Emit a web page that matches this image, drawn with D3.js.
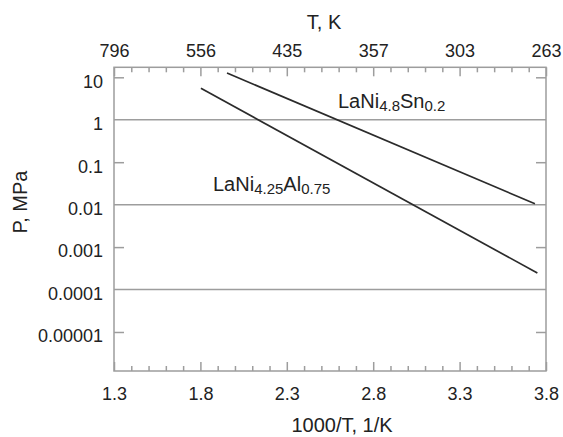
<!DOCTYPE html>
<html lang="en">
<head>
  <meta charset="UTF-8">
  <title>van 't Hoff plot</title>
  <style>
    body { margin: 0; background: #fff; }
    svg { display: block; font-family: "Liberation Sans", Arial, sans-serif; }
  </style>
</head>
<body>
  <svg class="chart"></svg>
  <script src="https://cdnjs.cloudflare.com/ajax/libs/d3/7.8.5/d3.min.js"></script>
  <script>
    var w = 563, h = 437;

    // data
    var invT_Sn = [1.954, 3.736];
    var P_Sn = [12.6, 0.0105];
    var invT_Al = [1.803, 3.75];
    var P_Al = [5.5, 0.000245];

    var xMajor = [1.3, 1.8, 2.3, 2.8, 3.3, 3.8];
    var xMajorLabels = ["1.3", "1.8", "2.3", "2.8", "3.3", "3.8"];
    var topLabels = ["796", "556", "435", "357", "303", "263"];
    var yTicks = [10, 1, 0.1, 0.01, 0.001, 0.0001, 0.00001];
    var yTickLabels = ["10", "1", "0.1", "0.01", "0.001", "0.0001", "0.00001"];
    var yGrid = [1, 0.01, 0.0001];
    var yShortTicks = [10, 0.1, 0.001, 0.00001];

    // plot box (window.top is reserved, so prefixed names)
    var pLeft = 114, pRight = 546, pTop = 67.3, pBottom = 371;

    var x = d3.scaleLinear().domain([1.3, 3.8]).range([pLeft, pRight]);
    var y = d3.scaleLog().domain([1.205e-6, 17.2]).range([pBottom, pTop]);

    var xMinor = d3.range(14, 38).map(d => d / 10).filter(v => !xMajor.some(m => Math.abs(m - v) < 1e-9));

    var svg = d3.select(".chart").attr("width", w).attr("height", h);

    var gray = "#9d9d9d", ink = "#222";

    // gridlines
    svg.append("g").selectAll("line")
      .data(yGrid)
      .enter().append("line")
      .attr("x1", pLeft).attr("x2", pRight)
      .attr("y1", d => y(d)).attr("y2", d => y(d))
      .attr("stroke", gray).attr("stroke-width", 1.5);

    function styleAxis(g) {
      g.select(".domain").remove();
      g.selectAll(".tick line").attr("stroke", gray).attr("stroke-width", 1.5);
      g.selectAll("text").attr("fill", ink).attr("font-size", 18)
        .attr("font-family", '"Liberation Sans", Arial, sans-serif');
    }

    // bottom axis (ticks inward)
    svg.append("g").attr("transform", "translate(0," + pBottom + ")")
      .call(d3.axisBottom(x).tickValues(xMinor).tickSize(-5).tickFormat(""))
      .call(styleAxis);
    svg.append("g").attr("transform", "translate(0," + pBottom + ")")
      .call(d3.axisBottom(x).tickValues(xMajor).tickSize(-9).tickPadding(16)
        .tickFormat((d, i) => xMajorLabels[i]))
      .call(styleAxis);

    // top axis
    svg.append("g").attr("transform", "translate(0," + pTop + ")")
      .call(d3.axisTop(x).tickValues(xMinor).tickSize(-5).tickFormat(""))
      .call(styleAxis);
    svg.append("g").attr("transform", "translate(0," + pTop + ")")
      .call(d3.axisTop(x).tickValues(xMajor).tickSize(-9).tickPadding(10)
        .tickFormat((d, i) => topLabels[i]))
      .call(styleAxis);

    // left axis
    var yl = svg.append("g").attr("transform", "translate(" + pLeft + ",0)")
      .call(d3.axisLeft(y).tickValues(yTicks).tickSize(0).tickPadding(11)
        .tickFormat((d, i) => yTickLabels[i]))
      .call(styleAxis);
    yl.selectAll("text").attr("dy", "0.55em");
    svg.append("g").attr("transform", "translate(" + pLeft + ",0)")
      .call(d3.axisLeft(y).tickValues(yShortTicks).tickSize(-10).tickFormat(""))
      .call(styleAxis);
    svg.append("g").attr("transform", "translate(" + pRight + ",0)")
      .call(d3.axisRight(y).tickValues(yShortTicks).tickSize(-10).tickFormat(""))
      .call(styleAxis);

    // frame
    svg.append("rect")
      .attr("x", pLeft).attr("y", pTop)
      .attr("width", pRight - pLeft).attr("height", pBottom - pTop)
      .attr("fill", "none").attr("stroke", gray).attr("stroke-width", 1.5);

    // series lines
    var lineFun = d3.line().x(d => x(d[0])).y(d => y(d[1]));
    var series = [
      d3.zip(invT_Sn, P_Sn),
      d3.zip(invT_Al, P_Al)
    ];
    svg.append("g").selectAll("path")
      .data(series)
      .enter().append("path")
      .attr("d", lineFun)
      .attr("fill", "none")
      .attr("stroke", "#2b2b2b")
      .attr("stroke-width", 1.7);

    // series labels with subscripts
    function formula(px, py, parts) {
      var t = svg.append("text")
        .attr("x", px).attr("y", py)
        .attr("fill", ink).attr("font-size", 20);
      parts.forEach(p => {
        t.append("tspan")
          .attr("font-size", p[1] ? 15 : 20)
          .attr("dy", p[1] ? 3 : (p[2] ? -3 : 0))
          .text(p[0]);
      });
    }
    formula(338, 107.7, [["LaNi", false], ["4.8", true], ["Sn", false, true], ["0.2", true]]);
    formula(213, 191, [["LaNi", false], ["4.25", true], ["Al", false, true], ["0.75", true]]);

    // axis titles
    svg.append("text")
      .attr("x", 324).attr("y", 28.5)
      .attr("text-anchor", "middle")
      .attr("fill", ink).attr("font-size", 20)
      .text("T, K");
    svg.append("text")
      .attr("x", 342).attr("y", 432)
      .attr("text-anchor", "middle")
      .attr("fill", ink).attr("font-size", 20)
      .text("1000/T, 1/K");
    svg.append("text")
      .attr("transform", "translate(26.5,202) rotate(-90)")
      .attr("text-anchor", "middle")
      .attr("fill", ink).attr("font-size", 20)
      .text("P, MPa");
  </script>
</body>
</html>
